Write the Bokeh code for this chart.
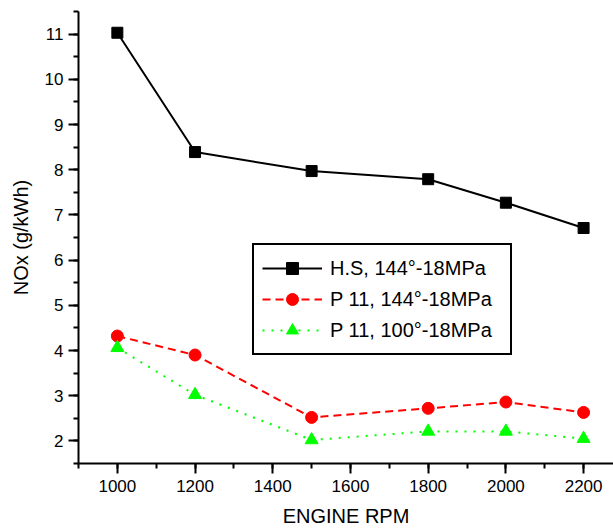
from bokeh.plotting import figure
from bokeh.models import FixedTicker, Range1d, Legend, LegendItem
from bokeh.embed import file_html
from bokeh.resources import INLINE

# ---- data ----
rpm = [1000, 1200, 1500, 1800, 2000, 2200]
hs_144 = [11.03, 8.39, 7.97, 7.79, 7.27, 6.71]
p11_144 = [4.32, 3.90, 2.52, 2.72, 2.86, 2.63]
p11_100 = [4.06, 3.02, 2.02, 2.21, 2.21, 2.05]

series_names = ["H.S, 144°-18MPa", "P 11, 144°-18MPa", "P 11, 100°-18MPa"]
x_major = [1000, 1200, 1400, 1600, 1800, 2000, 2200]
x_minor = [900 + 100 * i for i in range(14)]
y_major = [2, 3, 4, 5, 6, 7, 8, 9, 10, 11]
y_minor = [1.5 + 0.5 * i for i in range(21)]
x_title = "ENGINE RPM"
y_title = "NOx (g/kWh)"

FONT = "Liberation Sans"

p = figure(width=613, height=532, output_backend="svg", toolbar_location=None,
           x_range=Range1d(900, 2277), y_range=Range1d(1.5, 11.5),
           min_border_left=78, min_border_right=0, min_border_top=11,
           min_border_bottom=69)
p.outline_line_color = None
p.grid.visible = False
p.background_fill_color = "white"
p.border_fill_color = "white"

for ax in (p.xaxis[0], p.yaxis[0]):
    ax.axis_line_width = 2
    ax.axis_line_color = "black"
    ax.major_tick_line_width = 2
    ax.minor_tick_line_width = 2
    ax.major_tick_line_color = "black"
    ax.minor_tick_line_color = "black"
    ax.major_tick_out = 10
    ax.major_tick_in = 0
    ax.minor_tick_out = 5
    ax.minor_tick_in = 0
    ax.major_label_text_font = FONT
    ax.major_label_text_font_size = "17px"
    ax.major_label_text_color = "black"
    ax.axis_label_text_font = FONT
    ax.axis_label_text_font_size = "20px"
    ax.axis_label_text_font_style = "normal"
    ax.axis_label_text_color = "black"

p.xaxis[0].ticker = FixedTicker(ticks=x_major, minor_ticks=x_minor)
p.yaxis[0].ticker = FixedTicker(ticks=y_major, minor_ticks=y_minor)
p.xaxis[0].axis_label = x_title
p.yaxis[0].axis_label = y_title
p.xaxis[0].major_label_standoff = 6
p.yaxis[0].major_label_standoff = 5
p.xaxis[0].axis_label_standoff = 10
p.yaxis[0].axis_label_standoff = 10

l1 = p.line(rpm, hs_144, line_color="black", line_width=2)
m1 = p.scatter(rpm, hs_144, marker="square", size=11, fill_color="black", line_color="black")
l2 = p.line(rpm, p11_144, line_color="red", line_width=2, line_dash="8 5")
m2 = p.scatter(rpm, p11_144, marker="circle", size=12, fill_color="red", line_color="red")
l3 = p.line(rpm, p11_100, line_color="#00ff00", line_width=2, line_dash="2 7")
m3 = p.scatter(rpm, p11_100, marker="triangle", size=13, fill_color="#00ff00", line_color="#00ff00")

legend = Legend(items=[
    LegendItem(label=series_names[0], renderers=[l1, m1]),
    LegendItem(label=series_names[1], renderers=[l2, m2]),
    LegendItem(label=series_names[2], renderers=[l3, m3]),
], location=(174, 108))
legend.margin = 0
legend.padding = 8
legend.spacing = 1
legend.glyph_width = 60
legend.glyph_height = 30
legend.label_height = 30
legend.label_width = 172
legend.label_standoff = 8
legend.label_text_font = FONT
legend.label_text_font_size = "20px"
legend.label_text_color = "black"
legend.border_line_color = "black"
legend.border_line_alpha = 1
legend.border_line_width = 2
legend.background_fill_color = "white"
legend.background_fill_alpha = 1
p.add_layout(legend, "center")

open("out.html", "w").write(file_html(p, INLINE))
